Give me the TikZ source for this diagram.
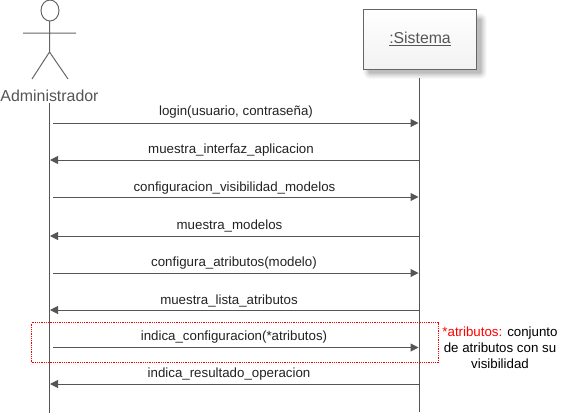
\documentclass[tikz,border=0pt]{standalone}
\usepackage{fontspec}
\setmainfont{Liberation Sans}
\usetikzlibrary{arrows.meta}
\definecolor{ln}{HTML}{555555}
\definecolor{stick}{HTML}{666666}
\definecolor{txt}{HTML}{222222}
\tikzset{
  x=1pt,y=-1pt,
  life/.style={draw=ln,line width=1pt},
  msg/.style={draw=ln,line width=1pt,-{Triangle[length=8pt,width=8pt,fill=ln]},shorten >=0.5pt},
  lbl/.style={font=\fontsize{13.3}{15}\selectfont,text=txt,inner sep=0pt,anchor=center},
  stickl/.style={draw=stick,line width=1pt},
}
\begin{document}
\begin{tikzpicture}
\useasboundingbox (0,0) rectangle (568,413);
% actor
\draw[stickl] (50,10.5) ellipse [x radius=9,y radius=10.5];
\coordinate (neck) at (49.5,21);
\coordinate (hip) at (49.5,52);
\coordinate (armL) at (23,33);
\coordinate (armR) at (76,33);
\coordinate (legL) at (32,79);
\coordinate (legR) at (68,79);
\draw[stickl] (neck) -- (hip) (armL) -- (armR) (hip) -- (legL) (hip) -- (legR);
\node[inner sep=0pt,font=\fontsize{15.9}{18}\selectfont,text=ln] (admin) at (49.5,95.5) {Administrador};
% system box with soft shadow
\foreach \d/\o in {7/0.025,6/0.03,5/0.035,4/0.04,3/0.05,2/0.05,1/0.06}{
  \fill[black,opacity=\o,rounded corners=\d pt] (370-\d,20-\d) rectangle (480+\d,72+\d);
}
\node[draw=stick,line width=1pt,minimum width=113pt,minimum height=60pt,inner sep=0pt,top color=white,bottom color=white!95!black] (sis) at (420,39) {};
\node[inner sep=0pt,font=\fontsize{15.8}{18}\selectfont,text=ln] at (sis.center) {\underline{:Sistema}};
% lifelines
\coordinate (aTop) at (49.5,103);
\coordinate (aBot) at (49.5,413);
\coordinate (sTop) at (419.5,78);
\coordinate (sBot) at (419.5,412);
\draw[life] (aTop) -- (aBot);
\draw[life] (sTop) -- (sBot);
% coordinates on lifelines
\foreach \n/\y in {1/123,2/160,3/197,4/236,5/273,6/310,7/347.5,8/384}{
  \coordinate (a\n) at (53,\y);
  \coordinate (b\n) at (49.5,\y);
  \coordinate (s\n) at (419,\y);
}
\draw[msg] (a1) -- (s1);
\draw[msg] (s2) -- (b2);
\draw[msg] (a3) -- (s3);
\draw[msg] (s4) -- (b4);
\draw[msg] (a5) -- (s5);
\draw[msg] (s6) -- (b6);
\draw[msg] (a7) -- (s7);
\draw[msg] (s8) -- (b8);
% labels
\node[lbl] (m1) at (236,112.5) {login(usuario, contraseña)};
\node[lbl] (m2) at (231,150.5) {muestra\_interfaz\_aplicacion};
\node[lbl] (m3) at (234.5,188.5) {configuracion\_visibilidad\_modelos};
\node[lbl] (m4) at (229.5,225.5) {muestra\_modelos};
\node[lbl] (m5) at (234,263) {configura\_atributos(modelo)};
\node[lbl] (m6) at (229,300.5) {muestra\_lista\_atributos};
\node[lbl] (m7) at (234,337.5) {indica\_configuracion(*atributos)};
\node[lbl] (m8) at (229,374.5) {indica\_resultado\_operacion};
% fragment
\node[draw=red,densely dotted,line width=0.8pt,inner sep=0pt,minimum width=407pt,minimum height=40pt] (frag) at (235,342.5) {};
% note
\node[align=center,inner sep=0pt,font=\fontsize{13.3}{16}\selectfont,text=black] (note) at (500,348) {\textcolor{red}{*atributos:} conjunto\\de atributos con su\\visibilidad};
\end{tikzpicture}
\end{document}
